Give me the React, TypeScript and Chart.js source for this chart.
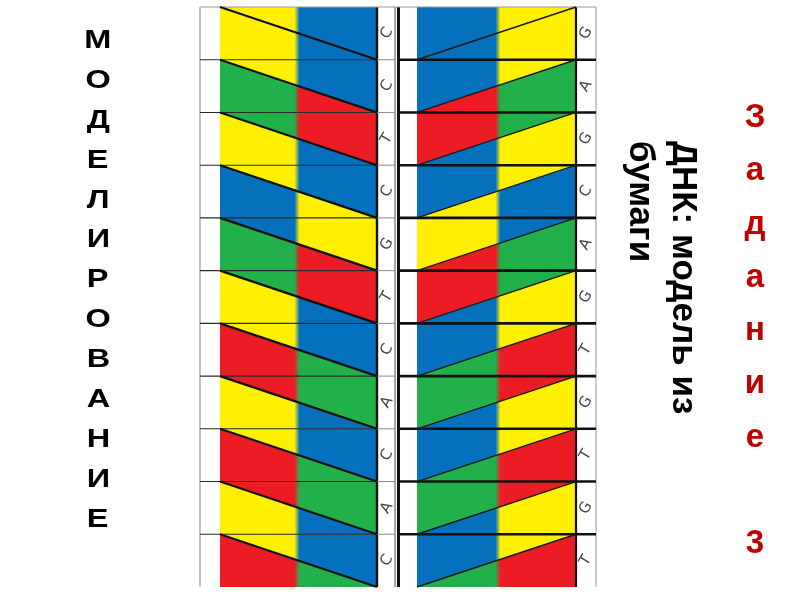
import React, { useEffect, useRef } from "react";
import { Chart, registerables } from "chart.js";

Chart.register(...registerables);

// ---------------- data ----------------
const rowIndex = [0, 1, 2, 3, 4, 5, 6, 7, 8, 9, 10];
const leftBases = ["C", "C", "T", "C", "G", "T", "C", "A", "C", "A", "C"];
const rightBases = ["G", "A", "G", "C", "A", "G", "T", "G", "T", "G", "T"];

// colour keys (Y yellow, B blue, G green, R red) of each row of the left strip:
// region above the diagonal (left half, right half) and below it
const leftAboveL = ["Y", "Y", "G", "Y", "B", "G", "Y", "R", "Y", "R", "Y"];
const leftAboveR = ["B", "B", "R", "B", "Y", "R", "B", "G", "B", "G", "B"];
const leftBelowL = ["Y", "G", "Y", "B", "G", "Y", "R", "Y", "R", "Y", "R"];
const leftBelowR = ["B", "R", "B", "Y", "R", "B", "G", "B", "G", "B", "G"];
// same for the right strip
const rightAboveL = ["B", "B", "R", "B", "Y", "R", "B", "G", "B", "G", "B"];
const rightAboveR = ["Y", "Y", "G", "Y", "B", "G", "Y", "R", "Y", "R", "Y"];
const rightBelowL = ["B", "R", "B", "Y", "R", "B", "G", "B", "G", "B", "G"];
const rightBelowR = ["Y", "G", "Y", "B", "G", "Y", "R", "Y", "R", "Y", "R"];

const titleLetters = ["М", "О", "Д", "Е", "Л", "И", "Р", "О", "В", "А", "Н", "И", "Е"];
const subtitleLines = ["ДНК: модель из", "бумаги"];
const taskLetters = ["З", "а", "д", "а", "н", "и", "е", "", "3"];

// ---------------- styles / layout ----------------
const COLORS: Record<string, string> = {
  Y: "#FFF000",
  B: "#0570BC",
  G: "#22B04B",
  R: "#EC1C24",
};

const X = {
  frameL: 0,
  colorL0: 20,
  midL: 97,
  colorL1: 177,
  letterL: 187,
  letterLR: 195,
  spine: 198.5,
  colorR0: 217,
  midR: 298,
  colorR1: 376,
  letterR: 386,
  frameR: 396,
};
const ROWS = rowIndex.length;

type P = { x: number; y: number | null };
type Seg = [number, number, number, number];

function segs(list: Seg[]): P[] {
  const out: P[] = [];
  list.forEach(([x0, y0, x1, y1]) => {
    out.push({ x: x0, y: y0 }, { x: x1, y: y1 }, { x: x1, y: null });
  });
  return out;
}

function lineDs(label: string, data: P[], color: string, width: number) {
  return {
    label,
    data,
    borderColor: color,
    borderWidth: width,
    pointRadius: 0,
    pointHoverRadius: 0,
    fill: false,
    spanGaps: false,
    clip: false,
    tension: 0,
    borderCapStyle: "butt",
  };
}

function gradient(a: string, b: string, mid: number) {
  return (c: any) => {
    const chart = c.chart;
    const xs = chart.scales && chart.scales.x;
    if (!xs || !chart.chartArea) return COLORS[a];
    const px = xs.getPixelForValue(mid);
    const g = chart.ctx.createLinearGradient(px - 2.5, 0, px + 2.5, 0);
    g.addColorStop(0, COLORS[a]);
    g.addColorStop(1, COLORS[b]);
    return g;
  };
}

function fillDs(label: string, data: P[], target: number, a: string, b: string, mid: number) {
  return {
    label,
    data,
    borderWidth: 0,
    borderColor: "rgba(0,0,0,0)",
    pointRadius: 0,
    pointHoverRadius: 0,
    fill: { value: target },
    backgroundColor: gradient(a, b, mid),
    tension: 0,
  };
}

function buildDatasets() {
  const inner = rowIndex.slice(1);
  const ds: any[] = [];

  // diagonals
  ds.push(lineDs("left diagonals", segs(rowIndex.map((i) => [X.colorL0, i, X.colorL1, i + 1] as Seg)), "#111", 2.2));
  ds.push(lineDs("right diagonals", segs(rowIndex.map((i) => [X.colorR0, i + 1, X.colorR1, i] as Seg)), "#1a1a1a", 1.4));

  // row lines
  ds.push(lineDs("left rows", segs(inner.map((i) => [X.frameL, i, X.colorL1, i] as Seg)), "#2a2a2a", 1.1));
  ds.push(lineDs("left letter rows", segs(inner.map((i) => [X.colorL1, i, X.letterLR, i] as Seg)), "#8a8a8a", 1));
  ds.push(lineDs("right rows", segs(inner.map((i) => [X.spine, i, X.frameR, i] as Seg)), "#111", 2.6));
  ds.push(lineDs("top", segs([[X.frameL, 0, X.frameR, 0]]), "#9a9a9a", 1.2));

  // vertical lines
  ds.push(lineDs("frame left", segs([[X.frameL, 0, X.frameL, ROWS]]), "#9a9a9a", 1.2));
  ds.push(lineDs("left end", segs([[X.colorL1, 0, X.colorL1, ROWS]]), "#111", 2.4));
  ds.push(lineDs("letter col", segs([[X.letterLR, 0, X.letterLR, ROWS]]), "#9a9a9a", 1));
  ds.push(lineDs("spine", segs([[X.spine, 0, X.spine, ROWS]]), "#111", 3));
  ds.push(lineDs("right end", segs([[X.colorR1, 0, X.colorR1, ROWS]]), "#111", 2.2));
  ds.push(lineDs("frame right", segs([[X.frameR, 0, X.frameR, ROWS]]), "#a8a8a8", 1.2));

  // coloured fills
  rowIndex.forEach((i) => {
    ds.push(fillDs(`L${i} above`, [{ x: X.colorL0, y: i }, { x: X.colorL1, y: i + 1 }], i, leftAboveL[i], leftAboveR[i], X.midL));
    ds.push(fillDs(`L${i} below`, [{ x: X.colorL0, y: i }, { x: X.colorL1, y: i + 1 }], i + 1, leftBelowL[i], leftBelowR[i], X.midL));
    ds.push(fillDs(`R${i} above`, [{ x: X.colorR0, y: i + 1 }, { x: X.colorR1, y: i }], i, rightAboveL[i], rightAboveR[i], X.midR));
    ds.push(fillDs(`R${i} below`, [{ x: X.colorR0, y: i + 1 }, { x: X.colorR1, y: i }], i + 1, rightBelowL[i], rightBelowR[i], X.midR));
  });
  return ds;
}

const basesPlugin = {
  id: "bases",
  afterDatasetsDraw(chart: any) {
    const { ctx, scales } = chart;
    const xs = scales.x;
    const ys = scales.y;
    ctx.save();
    ctx.fillStyle = "#444";
    ctx.font = '15px "DejaVu Sans"';
    ctx.textAlign = "center";
    ctx.textBaseline = "middle";
    rowIndex.forEach((i) => {
      const pairs: [number, string][] = [
        [X.letterL, leftBases[i]],
        [X.letterR, rightBases[i]],
      ];
      pairs.forEach(([xv, t]) => {
        ctx.save();
        ctx.translate(xs.getPixelForValue(xv), ys.getPixelForValue(i + 0.5));
        ctx.rotate(-Math.PI / 3);
        ctx.fillText(t, 0, 0);
        ctx.restore();
      });
    });
    ctx.restore();
  },
};

export default function App() {
  const ref = useRef<HTMLCanvasElement>(null);

  useEffect(() => {
    if (!ref.current) return;
    const chart = new Chart(ref.current, {
      type: "line",
      data: { datasets: buildDatasets() },
      options: {
        animation: false,
        responsive: false,
        events: [],
        layout: { padding: { left: 200, right: 203, top: 7, bottom: 13 } },
        scales: {
          x: { type: "linear", min: 0, max: 397, display: false },
          y: { type: "linear", min: 0, max: ROWS, reverse: true, display: false },
        },
        plugins: {
          legend: { display: false },
          tooltip: { enabled: false },
        },
      } as any,
      plugins: [basesPlugin],
    } as any);
    return () => chart.destroy();
  }, []);

  const font = '"Liberation Sans", Arial, sans-serif';

  return (
    <div style={{ position: "fixed", left: 0, top: 0, width: 800, height: 600, background: "#fff", overflow: "hidden" }}>
      <canvas ref={ref} width={800} height={600} style={{ position: "absolute", left: 0, top: 0, width: 800, height: 600 }} />

      <div style={{ position: "absolute", left: 58, top: 20, width: 80, fontFamily: font, fontWeight: 700, fontSize: 26, color: "#000", textAlign: "center" }}>
        {titleLetters.map((l, i) => (
          <div key={i} style={{ height: 39.9, lineHeight: "39.9px" }}>
            <span style={{ display: "inline-block", transform: "scaleX(1.25)" }}>{l}</span>
          </div>
        ))}
      </div>

      <div
        style={{
          position: "absolute",
          left: 707,
          top: 141,
          transformOrigin: "0 0",
          transform: "rotate(90deg)",
          fontFamily: font,
          fontWeight: 700,
          fontSize: 35,
          lineHeight: "43px",
          whiteSpace: "pre",
          color: "#000",
        }}
      >
        {subtitleLines.map((l, i) => (
          <div key={i}>{l}</div>
        ))}
      </div>

      <div style={{ position: "absolute", left: 715, top: 89, width: 80, fontFamily: font, fontWeight: 700, fontSize: 33, color: "#C00000", textAlign: "center" }}>
        {taskLetters.map((l, i) => (
          <div key={i} style={{ height: 53.3, lineHeight: "53.3px" }}>
            {l || "\u00a0"}
          </div>
        ))}
      </div>
    </div>
  );
}
